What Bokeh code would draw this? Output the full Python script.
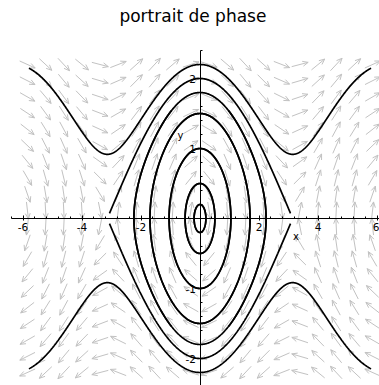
import numpy as np
from bokeh.plotting import figure
from bokeh.models import Range1d, LinearAxis, SingleIntervalTicker, Label, ColumnDataSource, Grid
from bokeh.embed import file_html
from bokeh.resources import INLINE

# Pendulum phase portrait: x' = y, y' = -sin(x)
chart_title = "portrait de phase"

# trajectories start at x(0) = 0, y(0) = +/- each value, solved for t in [-4, 4]
start_y = [0.2, 0.5, 1.0, 1.5, 1.8, 2.0, 2.2]
t_min, t_max = -4.0, 4.0

# direction field sampled on a 20 x 20 grid
field_cols = 20
field_rows = 20
field_x_span = (-5.85, 5.85)
field_y_span = (-2.2, 2.2)

# axis ticks
x_ticks = [-6, -4, -2, 2, 4, 6]
y_ticks = [-2, -1, 1, 2]

W, H = 379, 385
x0_px, y0_px = 199.5, 218.0        # pixel position of the origin
px_per_x, px_per_y = 29.5, 70.0
x_range = Range1d(-x0_px / px_per_x, (W - x0_px) / px_per_x)
y_range = Range1d((y0_px - H) / px_per_y, y0_px / px_per_y)


def rhs(x, y):
    return y, -np.sin(x)


def solve(x0, y0, t_end, dt=0.01):
    n = int(round(abs(t_end) / dt))
    h = dt if t_end > 0 else -dt
    xs, ys = [x0], [y0]
    x, y = x0, y0
    for _ in range(n):
        k1x, k1y = rhs(x, y)
        k2x, k2y = rhs(x + h / 2 * k1x, y + h / 2 * k1y)
        k3x, k3y = rhs(x + h / 2 * k2x, y + h / 2 * k2y)
        k4x, k4y = rhs(x + h * k3x, y + h * k3y)
        x = x + h / 6 * (k1x + 2 * k2x + 2 * k3x + k4x)
        y = y + h / 6 * (k1y + 2 * k2y + 2 * k3y + k4y)
        xs.append(x)
        ys.append(y)
    return np.array(xs), np.array(ys)


curves_x, curves_y = [], []
for v in start_y:
    for s in (1, -1):
        bx, by = solve(0.0, s * v, t_min)
        fx, fy = solve(0.0, s * v, t_max)
        curves_x.append(np.concatenate([bx[::-1], fx[1:]]))
        curves_y.append(np.concatenate([by[::-1], fy[1:]]))

# direction-field arrows, fixed on-screen length
sx = W / (x_range.end - x_range.start)
sy = H / (y_range.end - y_range.start)
L, head, ang = 17.0, 6.0, np.radians(24)
gx, gy = np.meshgrid(np.linspace(*field_x_span, field_cols), np.linspace(*field_y_span, field_rows))
gx, gy = gx.ravel(), gy.ravel()
u, v = rhs(gx, gy)
pu, pv = u * sx, v * sy
norm = np.hypot(pu, pv)
pu, pv = pu / norm, pv / norm
tail_x, tail_y = gx - pu * L / 2 / sx, gy - pv * L / 2 / sy
tip_x, tip_y = gx + pu * L / 2 / sx, gy + pv * L / 2 / sy
seg_x0, seg_y0, seg_x1, seg_y1 = [tail_x], [tail_y], [tip_x], [tip_y]
for a in (ang, -ang):
    bu = -(pu * np.cos(a) - pv * np.sin(a))
    bv = -(pu * np.sin(a) + pv * np.cos(a))
    seg_x0.append(tip_x)
    seg_y0.append(tip_y)
    seg_x1.append(tip_x + bu * head / sx)
    seg_y1.append(tip_y + bv * head / sy)
arrows = ColumnDataSource(dict(x0=np.concatenate(seg_x0), y0=np.concatenate(seg_y0),
                               x1=np.concatenate(seg_x1), y1=np.concatenate(seg_y1)))

p = figure(width=W, height=H, x_range=x_range, y_range=y_range,
           output_backend="svg", toolbar_location=None,
           x_axis_location=None, y_axis_location=None, min_border=0)
p.outline_line_color = None
p.background_fill_color = "white"
p.border_fill_color = "white"
p.title.visible = False
p.center = [r for r in p.center if not isinstance(r, Grid)]

p.segment("x0", "y0", "x1", "y1", source=arrows, line_color="#c2c2c2", line_width=1)
p.multi_line(curves_x, curves_y, line_color="black", line_width=1.7)

font = "DejaVu Sans"
xaxis = LinearAxis(fixed_location=0, bounds=(-6.4, 6.4),
                   ticker=SingleIntervalTicker(interval=2, num_minor_ticks=5))
xaxis.major_label_overrides = {0: ""} | {t: str(t) for t in x_ticks}
yaxis = LinearAxis(fixed_location=0, bounds=(-2.4, 2.4),
                   ticker=SingleIntervalTicker(interval=1, num_minor_ticks=5))
yaxis.major_label_overrides = {0: ""} | {t: str(t) for t in y_ticks}
for ax in (xaxis, yaxis):
    ax.axis_line_color = "black"
    ax.major_tick_line_color = "black"
    ax.minor_tick_line_color = "black"
    ax.major_tick_in = 3
    ax.major_tick_out = 2
    ax.minor_tick_in = 2
    ax.minor_tick_out = 0
    ax.major_label_text_font = font
    ax.major_label_text_font_size = "10.5px"
    ax.major_label_text_color = "black"
    ax.major_label_standoff = 2
p.add_layout(xaxis, "below")
p.add_layout(yaxis, "left")

p.add_layout(Label(x=3.25, y=-0.26, text="x", text_font=font, text_font_size="10px",
                   text_color="black", text_align="center", text_baseline="middle"))
p.add_layout(Label(x=-0.66, y=1.19, text="y", text_font=font, text_font_size="10px",
                   text_color="black", text_align="center", text_baseline="middle"))
p.add_layout(Label(x=-0.24, y=2.9, text=chart_title, text_font=font, text_font_size="17px",
                   text_color="black", text_align="center", text_baseline="middle"))

open("out.html", "w").write(file_html(p, INLINE))
